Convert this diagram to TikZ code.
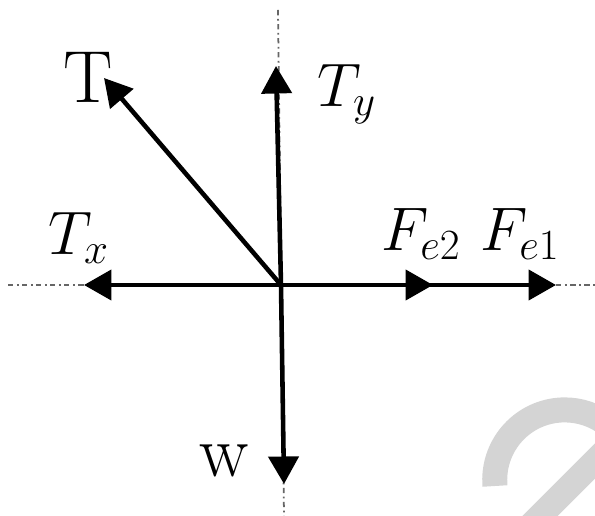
\RequirePackage{fix-cm}
\documentclass[tikz,border=0pt]{standalone}
\usetikzlibrary{arrows.meta}

\tikzstyle{force} = [line width=2.6pt, -{Triangle[length=0.55cm,width=0.6cm]}]
\tikzstyle{axis} = [line width=1pt, black!60, dash dot]
\tikzstyle{lbl} = [inner sep=0pt, font=\fontsize{35}{42}\selectfont]
\tikzstyle{rlbl} = [inner sep=0pt, font=\fontsize{42}{50}\selectfont]
\tikzstyle{wmark} = [black!17, line width=0.5cm]

\begin{document}
\begin{tikzpicture}[x=0.02cm, y=-0.02cm]
\useasboundingbox (0,0) rectangle (595,516);
\clip (0,0) rectangle (595,516);
% watermark
\draw[wmark] (495,486) arc[start angle=-185, end angle=-20, radius=70];
\draw[wmark] (625,431) -- (510,546);
% axes
\coordinate (O) at (281,285);
\coordinate (top) at (278,10);
\coordinate (bot) at (284,516);
\coordinate (left) at (8,285);
\coordinate (right) at (595,285);
\draw[axis] (top) -- (bot);
\draw[axis] (left) -- (right);
% tips
\coordinate (tipT) at (104,78);
\coordinate (tipTy) at (276,66);
\coordinate (tipTx) at (84,285);
\coordinate (tipFa) at (433,285);
\coordinate (tipFb) at (556,285);
\coordinate (tipW) at (284,484);
\draw[force] (O) -- (tipT);
\draw[force] (O) -- (tipTy);
\draw[force] (O) -- (tipTx);
\draw[force] (O) -- (tipFb);
\draw[force] (O) -- (tipFa);
\draw[force] (O) -- (tipW);
% labels
\node[rlbl] (T) at (88,77) {T};
\node[lbl] (Ty) at (347,94) {$T_y$};
\node[lbl] (Tx) at (79,238) {$T_x$};
\node[lbl] (Fe2) at (421,234) {$F_{e2}$};
\node[lbl] (Fe1) at (520,234) {$F_{e1}$};
\node[rlbl] (w) at (224,461) {w};
\end{tikzpicture}
\end{document}
